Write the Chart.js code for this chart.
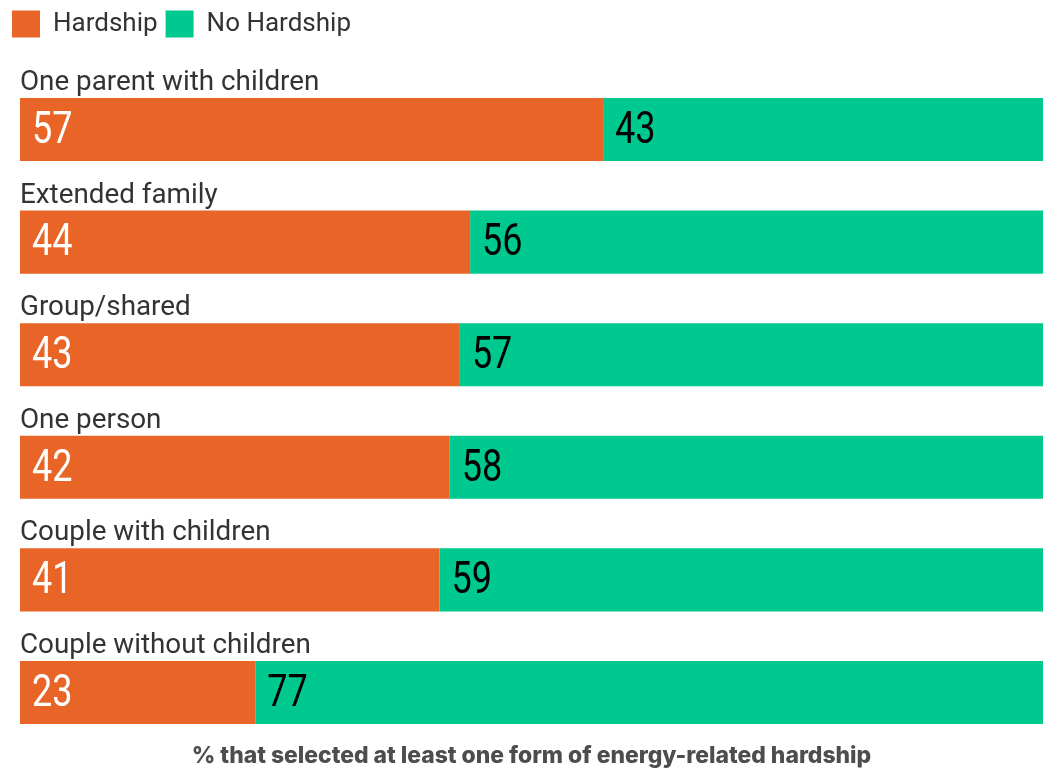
<!DOCTYPE html>
<html>
<head>
<meta charset="utf-8">
<script src="https://cdn.jsdelivr.net/npm/chart.js@4/dist/chart.umd.min.js"></script>
<style>
  html, body { margin: 0; padding: 0; background: #ffffff; }
  #wrap { width: 1048px; height: 771px; position: relative; }
</style>
</head>
<body>
<div id="wrap"><canvas id="chart"></canvas></div>
<script>
// Household types and the share reporting energy-related hardship (%)
const categories = [
  'One parent with children',
  'Extended family',
  'Group/shared',
  'One person',
  'Couple with children',
  'Couple without children'
];
const hardship   = [57, 44, 43, 42, 41, 23];
const noHardship = [43, 56, 57, 58, 59, 77];
const seriesNames = ['Hardship', 'No Hardship'];
const footerText = '% that selected at least one form of energy-related hardship';

const ORANGE = '#E96427';
const GREEN = '#00C98F';
const TEXT = '#333333';

// Category names above each bar, value labels inside each segment, and the footer line
const barText = {
  id: 'barText',
  afterDatasetsDraw(chart) {
    const ctx = chart.ctx;
    const area = chart.chartArea;
    ctx.save();

    // category names
    const meta0 = chart.getDatasetMeta(0);
    ctx.font = '27.8px Roboto';
    ctx.fillStyle = TEXT;
    ctx.textAlign = 'left';
    ctx.textBaseline = 'alphabetic';
    meta0.data.forEach((bar, i) => {
      const p = bar.getProps(['y', 'height'], true);
      ctx.fillText(categories[i], area.left, p.y - p.height / 2 - 8);
    });

    // values inside segments
    const colors = ['#ffffff', '#000000'];
    chart.data.datasets.forEach((ds, di) => {
      const meta = chart.getDatasetMeta(di);
      meta.data.forEach((bar, i) => {
        const p = bar.getProps(['x', 'y', 'base'], true);
        const left = Math.min(p.x, p.base);
        ctx.save();
        ctx.translate(left + 12, p.y);
        ctx.scale(0.8, 1);
        ctx.font = '45px Roboto';
        ctx.fillStyle = colors[di];
        ctx.textAlign = 'left';
        ctx.textBaseline = 'middle';
        ctx.fillText(String(ds.data[i]), 0, 2);
        ctx.restore();
      });
    });

    // footer
    ctx.font = '800 22.9px Inter';
    ctx.fillStyle = '#4d4d4d';
    ctx.textAlign = 'center';
    ctx.textBaseline = 'middle';
    ctx.fillText(footerText, (area.left + area.right) / 2, 756);
    ctx.restore();
  }
};

new Chart(document.getElementById('chart'), {
  type: 'bar',
  data: {
    labels: categories,
    datasets: [
      { label: seriesNames[0], data: hardship, backgroundColor: ORANGE },
      { label: seriesNames[1], data: noHardship, backgroundColor: GREEN }
    ]
  },
  options: {
    indexAxis: 'y',
    responsive: true,
    maintainAspectRatio: false,
    animation: false,
    layout: { padding: { top: 2.5, left: 4, right: 5, bottom: 22.2 } },
    datasets: { bar: { categoryPercentage: 1, barPercentage: 0.56, borderWidth: 0 } },
    scales: {
      x: {
        stacked: true, min: 0, max: 100, position: 'top',
        ticks: { display: false },
        grid: { display: false },
        border: { display: false },
        afterFit(s) { s.height = 25.7; }
      },
      y: {
        stacked: true,
        ticks: { display: false },
        grid: { display: false },
        border: { display: false },
        afterFit(s) { s.width = 16; }
      }
    },
    plugins: {
      legend: {
        position: 'top',
        align: 'start',
        labels: {
          boxWidth: 28,
          boxHeight: 27,
          padding: 8,
          color: TEXT,
          font: { family: 'Roboto', size: 26 }
        }
      },
      tooltip: { enabled: false },
      title: { display: false }
    }
  },
  plugins: [barText]
});
</script>
</body>
</html>
